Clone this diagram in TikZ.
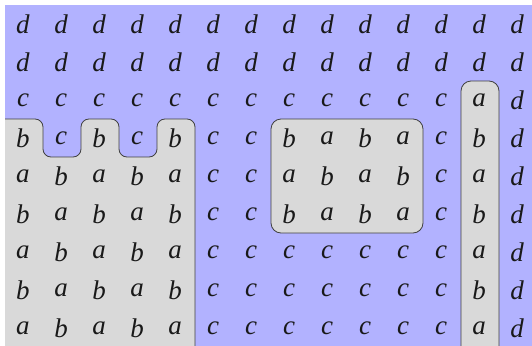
\documentclass[tikz,border=0pt]{standalone}
\usepackage{fontspec}
\setmainfont{Liberation Serif}
\begin{document}
\begin{tikzpicture}[x=1pt,y=-1pt,
  cellletter/.style={inner sep=0pt, text=black!90, font=\fontsize{27}{31}\selectfont\itshape},
  grayreg/.style={fill=gray!30, draw=black!75, line width=0.8pt, rounded corners=8pt},
  graybox/.style={fill=gray!30, draw=black!75, line width=0.8pt, rounded corners=10pt}]
\useasboundingbox (0,0) rectangle (532,345);
\begin{scope}
  \clip (5,5) rectangle (532,345);
  \fill[blue!30] (5,5) rectangle (540,350);
  \draw[grayreg] (-20,119) -- (43,119) -- (43,157) -- (81,157) -- (81,119)
     -- (119,119) -- (119,157) -- (157,157) -- (157,119) -- (195,119)
     -- (195,370) -- (-20,370) -- cycle;
  \draw[graybox] (271,119) rectangle (423,233);
  \draw[graybox] (461,81) rectangle (499,380);
\end{scope}
\foreach \r [count=\i] in {
  {d,d,d,d,d,d,d,d,d,d,d,d,d,d},
  {d,d,d,d,d,d,d,d,d,d,d,d,d,d},
  {c,c,c,c,c,c,c,c,c,c,c,c,a,d},
  {b,c,b,c,b,c,c,b,a,b,a,c,b,d},
  {a,b,a,b,a,c,c,a,b,a,b,c,a,d},
  {b,a,b,a,b,c,c,b,a,b,a,c,b,d},
  {a,b,a,b,a,c,c,c,c,c,c,c,a,d},
  {b,a,b,a,b,c,c,c,c,c,c,c,b,d},
  {a,b,a,b,a,c,c,c,c,c,c,c,a,d}} {
  \foreach \l [count=\j] in \r {
    \node[cellletter] (n-\i-\j) at ({23+38*(\j-1)},{24+38*(\i-1)}) {\l};
  }
}
\end{tikzpicture}
\end{document}
